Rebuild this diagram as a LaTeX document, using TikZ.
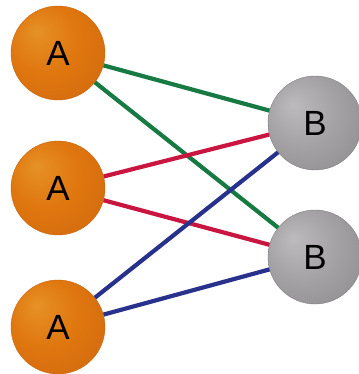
\documentclass[tikz,border=0pt]{standalone}
\usepackage{fontspec}
\setmainfont{Liberation Sans}
\usepackage{tikz}
\usetikzlibrary{shapes.geometric}

\definecolor{aorange}{RGB}{222,112,16}
\definecolor{bgray}{RGB}{160,158,160}
\definecolor{bondgreen}{RGB}{22,122,66}
\definecolor{bondred}{RGB}{200,22,64}
\definecolor{bondblue}{RGB}{40,50,140}

\pgfdeclareradialshading{orangeball}{\pgfpoint{-12bp}{12bp}}{%
  color(0bp)=(aorange!85!yellow!90!white);
  color(18bp)=(aorange!95!yellow);
  color(36bp)=(aorange!95!black);
  color(50bp)=(aorange!82!black)}
\pgfdeclareradialshading{grayball}{\pgfpoint{-12bp}{10bp}}{%
  color(0bp)=(bgray!70!white);
  color(18bp)=(bgray!95!white);
  color(36bp)=(bgray!90!black);
  color(50bp)=(bgray!72!black)}

\tikzset{
  aball/.style={circle, minimum size=94pt, inner sep=0pt, shading=orangeball,
    draw=aorange!90!black, thin, font=\fontsize{35}{40}\selectfont},
  bball/.style={circle, minimum size=94pt, inner sep=0pt, shading=grayball,
    draw=bgray!80!black, thin, font=\fontsize{35}{40}\selectfont},
  bond/.style={line width=4.2pt}
}

\begin{document}
\begin{tikzpicture}[x=1pt, y=1pt]
  \useasboundingbox (0,0) rectangle (358,374);
  % atoms
  \node[aball] (a1) at (58,321) {A};
  \node[aball] (a2) at (58,186) {A};
  \node[aball] (a3) at (58,47) {A};
  \node[bball] (b1) at (315,251) {B};
  \node[bball] (b2) at (315,117) {B};
  % bonds
  \draw[bond, bondgreen] (a1) -- (b1);
  \draw[bond, bondgreen] (a1) -- (b2);
  \draw[bond, bondred] (a2) -- (b1);
  \draw[bond, bondred] (a2) -- (b2);
  \draw[bond, bondblue] (a3) -- (b1);
  \draw[bond, bondblue] (a3) -- (b2);
\end{tikzpicture}
\end{document}
